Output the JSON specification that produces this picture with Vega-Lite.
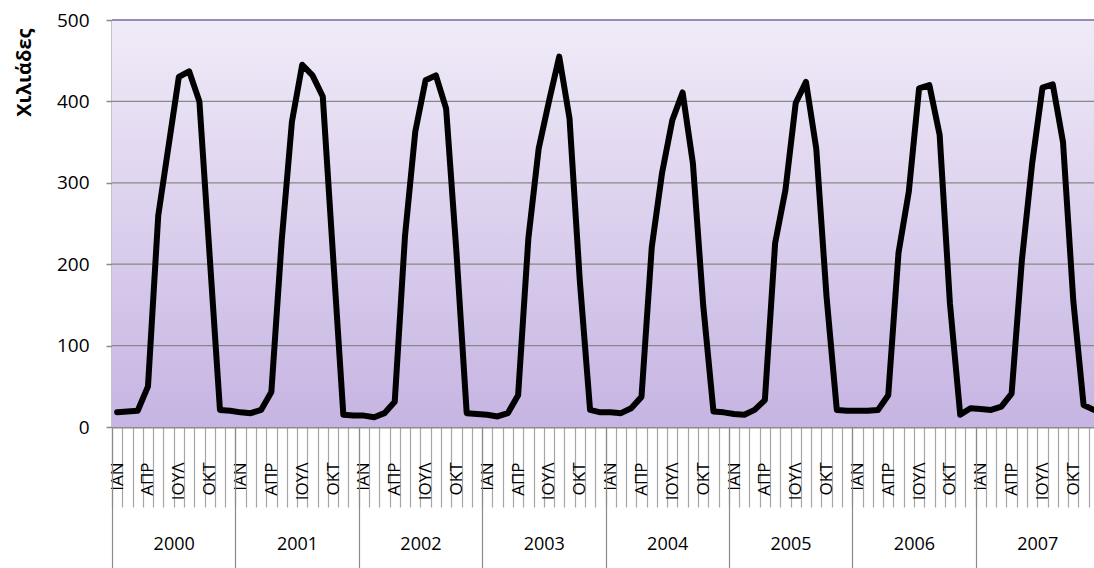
{
  "$schema": "https://vega.github.io/schema/vega-lite/v6.json",
  "autosize": {"type": "none"},
  "padding": {"left": 112, "top": 20, "right": 0, "bottom": 141},
  "width": 982,
  "height": 407,
  "background": "white",
  "config": {"font": "Open Sans", "view": {"stroke": null}},
  "datasets": {
    "gridlines": [
      {"level": 100, "kind": "grid"},
      {"level": 200, "kind": "grid"},
      {"level": 300, "kind": "grid"},
      {"level": 400, "kind": "grid"},
      {"level": 500, "kind": "top"}
    ],
    "visitors": [
      {"year": 2000, "period": "2000-01", "value": 18},
      {"year": 2000, "period": "2000-02", "value": 19},
      {"year": 2000, "period": "2000-03", "value": 20},
      {"year": 2000, "period": "2000-04", "value": 50},
      {"year": 2000, "period": "2000-05", "value": 260},
      {"year": 2000, "period": "2000-06", "value": 345},
      {"year": 2000, "period": "2000-07", "value": 430},
      {"year": 2000, "period": "2000-08", "value": 437},
      {"year": 2000, "period": "2000-09", "value": 400},
      {"year": 2000, "period": "2000-10", "value": 210},
      {"year": 2000, "period": "2000-11", "value": 21},
      {"year": 2000, "period": "2000-12", "value": 20},
      {"year": 2001, "period": "2001-01", "value": 18},
      {"year": 2001, "period": "2001-02", "value": 17},
      {"year": 2001, "period": "2001-03", "value": 21},
      {"year": 2001, "period": "2001-04", "value": 43},
      {"year": 2001, "period": "2001-05", "value": 228},
      {"year": 2001, "period": "2001-06", "value": 375},
      {"year": 2001, "period": "2001-07", "value": 445},
      {"year": 2001, "period": "2001-08", "value": 432},
      {"year": 2001, "period": "2001-09", "value": 406},
      {"year": 2001, "period": "2001-10", "value": 210},
      {"year": 2001, "period": "2001-11", "value": 15},
      {"year": 2001, "period": "2001-12", "value": 14},
      {"year": 2002, "period": "2002-01", "value": 14},
      {"year": 2002, "period": "2002-02", "value": 12},
      {"year": 2002, "period": "2002-03", "value": 17},
      {"year": 2002, "period": "2002-04", "value": 31},
      {"year": 2002, "period": "2002-05", "value": 235},
      {"year": 2002, "period": "2002-06", "value": 363},
      {"year": 2002, "period": "2002-07", "value": 426},
      {"year": 2002, "period": "2002-08", "value": 432},
      {"year": 2002, "period": "2002-09", "value": 391},
      {"year": 2002, "period": "2002-10", "value": 215},
      {"year": 2002, "period": "2002-11", "value": 17},
      {"year": 2002, "period": "2002-12", "value": 16},
      {"year": 2003, "period": "2003-01", "value": 15},
      {"year": 2003, "period": "2003-02", "value": 13},
      {"year": 2003, "period": "2003-03", "value": 17},
      {"year": 2003, "period": "2003-04", "value": 39},
      {"year": 2003, "period": "2003-05", "value": 232},
      {"year": 2003, "period": "2003-06", "value": 342},
      {"year": 2003, "period": "2003-07", "value": 400},
      {"year": 2003, "period": "2003-08", "value": 455},
      {"year": 2003, "period": "2003-09", "value": 379},
      {"year": 2003, "period": "2003-10", "value": 180},
      {"year": 2003, "period": "2003-11", "value": 21},
      {"year": 2003, "period": "2003-12", "value": 18},
      {"year": 2004, "period": "2004-01", "value": 18},
      {"year": 2004, "period": "2004-02", "value": 17},
      {"year": 2004, "period": "2004-03", "value": 23},
      {"year": 2004, "period": "2004-04", "value": 37},
      {"year": 2004, "period": "2004-05", "value": 221},
      {"year": 2004, "period": "2004-06", "value": 312},
      {"year": 2004, "period": "2004-07", "value": 377},
      {"year": 2004, "period": "2004-08", "value": 411},
      {"year": 2004, "period": "2004-09", "value": 324},
      {"year": 2004, "period": "2004-10", "value": 150},
      {"year": 2004, "period": "2004-11", "value": 19},
      {"year": 2004, "period": "2004-12", "value": 18},
      {"year": 2005, "period": "2005-01", "value": 16},
      {"year": 2005, "period": "2005-02", "value": 15},
      {"year": 2005, "period": "2005-03", "value": 21},
      {"year": 2005, "period": "2005-04", "value": 33},
      {"year": 2005, "period": "2005-05", "value": 226},
      {"year": 2005, "period": "2005-06", "value": 291},
      {"year": 2005, "period": "2005-07", "value": 398},
      {"year": 2005, "period": "2005-08", "value": 424},
      {"year": 2005, "period": "2005-09", "value": 342},
      {"year": 2005, "period": "2005-10", "value": 160},
      {"year": 2005, "period": "2005-11", "value": 21},
      {"year": 2005, "period": "2005-12", "value": 20},
      {"year": 2006, "period": "2006-01", "value": 20},
      {"year": 2006, "period": "2006-02", "value": 20},
      {"year": 2006, "period": "2006-03", "value": 21},
      {"year": 2006, "period": "2006-04", "value": 39},
      {"year": 2006, "period": "2006-05", "value": 214},
      {"year": 2006, "period": "2006-06", "value": 289},
      {"year": 2006, "period": "2006-07", "value": 416},
      {"year": 2006, "period": "2006-08", "value": 420},
      {"year": 2006, "period": "2006-09", "value": 359},
      {"year": 2006, "period": "2006-10", "value": 152},
      {"year": 2006, "period": "2006-11", "value": 15},
      {"year": 2006, "period": "2006-12", "value": 23},
      {"year": 2007, "period": "2007-01", "value": 22},
      {"year": 2007, "period": "2007-02", "value": 21},
      {"year": 2007, "period": "2007-03", "value": 25},
      {"year": 2007, "period": "2007-04", "value": 41},
      {"year": 2007, "period": "2007-05", "value": 205},
      {"year": 2007, "period": "2007-06", "value": 324},
      {"year": 2007, "period": "2007-07", "value": 417},
      {"year": 2007, "period": "2007-08", "value": 421},
      {"year": 2007, "period": "2007-09", "value": 350},
      {"year": 2007, "period": "2007-10", "value": 155},
      {"year": 2007, "period": "2007-11", "value": 27},
      {"year": 2007, "period": "2007-12", "value": 21}
    ]
  },
  "layer": [
    {
      "data": {"values": [{"area": "plot"}]},
      "mark": {
        "type": "rect",
        "fill": {
          "gradient": "linear", "x1": 0, "y1": 0, "x2": 0, "y2": 1,
          "stops": [
            {"offset": 0, "color": "#f0ebf8"},
            {"offset": 1, "color": "#c6b4e2"}
          ]
        }
      },
      "encoding": {}
    },
    {
      "data": {"name": "gridlines"},
      "mark": {"type": "rule", "strokeWidth": 1.3},
      "encoding": {
        "y": {"field": "level", "type": "quantitative"},
        "color": {
          "field": "kind",
          "type": "nominal",
          "scale": {"domain": ["grid", "top"], "range": ["#878787", "#8064a2"]},
          "legend": null
        }
      }
    },
    {
      "data": {"name": "visitors"},
      "transform": [{"aggregate": [{"op": "count", "as": "months"}], "groupby": ["year"]}],
      "mark": {"type": "rect", "opacity": 0},
      "encoding": {
        "x": {
          "field": "year",
          "type": "ordinal",
          "scale": {"range": [0, 987], "paddingInner": 0, "paddingOuter": 0},
          "axis": {
            "orient": "bottom",
            "title": null,
            "domain": false,
            "grid": false,
            "tickBand": "extent",
            "tickSize": 141,
            "tickColor": "#8a8a8a",
            "tickWidth": 1.2,
            "labelAngle": 0,
            "labelFontSize": 18,
            "labelColor": "#000000",
            "labelPadding": -33
          }
        }
      }
    },
    {
      "data": {"name": "visitors"},
      "mark": {"type": "line", "color": "#000000", "strokeWidth": 6, "strokeJoin": "round", "strokeCap": "round", "clip": true},
      "encoding": {
        "x": {
          "field": "period",
          "type": "ordinal",
          "scale": {"range": [0, 987], "paddingInner": 0, "paddingOuter": 0},
          "axis": {
            "orient": "bottom",
            "title": null,
            "grid": false,
            "domainColor": "#8a8a8a",
            "domainWidth": 2,
            "tickBand": "extent",
            "tickSize": 80,
            "tickColor": "#a6a6a6",
            "tickWidth": 1.2,
            "labelAngle": 270,
            "labelFontSize": 17,
            "labelColor": "#000000",
            "labelPadding": -45,
            "labelOverlap": false,
            "labelFlush": false,
            "labelBound": false,
            "labelExpr": "substring(datum.label + '', 5, 7) == '01' ? 'ΙΑΝ' : substring(datum.label + '', 5, 7) == '04' ? 'ΑΠΡ' : substring(datum.label + '', 5, 7) == '07' ? 'ΙΟΥΛ' : substring(datum.label + '', 5, 7) == '10' ? 'ΟΚΤ' : ''"
          }
        },
        "y": {
          "field": "value",
          "type": "quantitative",
          "scale": {"domain": [0, 500], "nice": false},
          "axis": {
            "values": [0, 100, 200, 300, 400, 500],
            "grid": false,
            "title": "Χιλιάδες",
            "titleFontSize": 20,
            "titleFontWeight": "bold",
            "titleColor": "#000000",
            "titleAngle": 270,
            "titleAlign": "right",
            "titleBaseline": "middle",
            "titleX": -88,
            "titleY": 8,
            "domainColor": "#8a8a8a",
            "domainWidth": 2,
            "tickColor": "#8a8a8a",
            "tickSize": 6,
            "tickWidth": 1.5,
            "labelFontSize": 19,
            "labelColor": "#000000",
            "labelPadding": 17
          }
        }
      }
    }
  ],
  "resolve": {"scale": {"x": "independent"}}
}
